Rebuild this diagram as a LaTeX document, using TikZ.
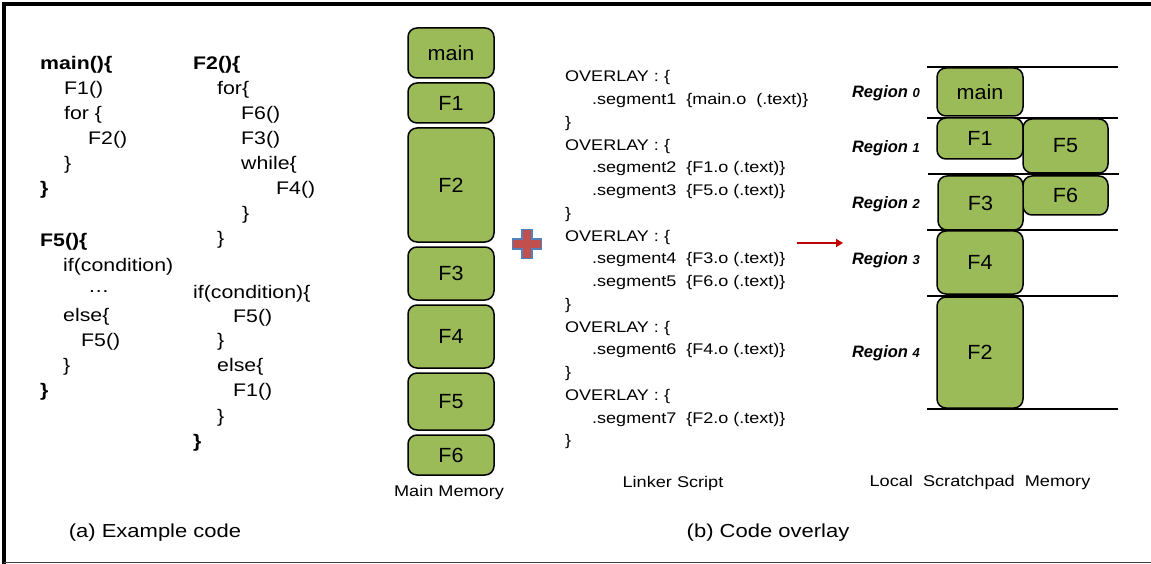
\documentclass[tikz,border=0pt]{standalone}
\usepackage{fontspec}
\setmainfont{Liberation Sans}[FakeStretch=1.17]
\newfontfamily\boxfont{Liberation Sans}[FakeStretch=1.05]
\newfontfamily\regfont{Liberation Sans}
\usetikzlibrary{arrows.meta}
\definecolor{boxgreen}{HTML}{9BBB59}
\definecolor{plusred}{HTML}{C0504D}
\definecolor{plusblue}{HTML}{4F81BD}
\definecolor{arrowred}{HTML}{C00000}
\tikzset{
  code/.style={anchor=west, inner sep=0pt, font=\fontsize{18.2}{20}\selectfont},
  codeb/.style={code, font=\fontsize{18.2}{20}\selectfont\bfseries},
  lnk/.style={anchor=west, inner sep=0pt, font=\fontsize{15.4}{17}\selectfont},
  mem/.style={draw=black, line width=1.5pt, fill=boxgreen, rounded corners=9pt},
  memlabel/.style={inner sep=0pt, font=\boxfont\fontsize{20.5}{23}\selectfont},
  caption/.style={inner sep=0pt, font=\fontsize{15.5}{17}\selectfont},
  bigcap/.style={inner sep=0pt, font=\fontsize{18.8}{21}\selectfont},
  region/.style={anchor=east, inner sep=0pt, font=\regfont\fontsize{16.5}{18}\selectfont\bfseries\itshape},
  sline/.style={line width=1.8pt},
}
\newcommand{\rdig}[1]{{\fontsize{13}{14}\selectfont #1}}
\begin{document}
\begin{tikzpicture}[x=1pt, y=-1pt]
\useasboundingbox (0,0) rectangle (1151,564);
% frame
\draw[line width=3.5pt] (4,564) -- (4,4) -- (1151,4);
\draw[line width=1pt, black!75] (4,562) -- (1151,562);

% ---------- (a) example code ----------
\node[codeb] (m0) at (40,65) {main()\{};
\node[code] (m1) at (64,90) {F1()};
\node[code] (m2) at (64,115) {for \{};
\node[code] (m3) at (88,140) {F2()};
\node[code] (m4) at (64,165) {\}};
\node[codeb] (m5) at (40,190) {\}};

\node[codeb] (f50) at (40,242) {F5()\{};
\node[code] (f51) at (63,267) {if(condition)};
\node[code] (f52) at (88,292) {\dots};
\node[code] (f53) at (63,317) {else\{};
\node[code] (f54) at (81,342) {F5()};
\node[code] (f55) at (63,367) {\}};
\node[codeb] (f56) at (40,392) {\}};

\node[codeb] (f20) at (193,65) {F2()\{};
\node[code] (f21) at (217,90) {for\{};
\node[code] (f22) at (241,115) {F6()};
\node[code] (f23) at (241,140) {F3()};
\node[code] (f24) at (241,165) {while\{};
\node[code] (f25) at (276,190) {F4()};
\node[code] (f26) at (242,215) {\}};
\node[code] (f27) at (217,240) {\}};
\node[code] (f28) at (193,294) {if(condition)\{};
\node[code] (f29) at (233,318) {F5()};
\node[code] (f210) at (217,342) {\}};
\node[code] (f211) at (217,367) {else\{};
\node[code] (f212) at (233,392) {F1()};
\node[code] (f213) at (217,418) {\}};
\node[codeb] (f214) at (193,443) {\}};

\node[bigcap] (capa) at (155,533) {(a) Example code};

% ---------- main memory ----------
\draw[mem] (408,28) rectangle (494,78);   \node[memlabel] (mmmain) at (451,53) {main};
\draw[mem] (408,83) rectangle (494,123);  \node[memlabel] (mmf1) at (451,103) {F1};
\draw[mem] (408,128) rectangle (494,242); \node[memlabel] (mmf2) at (451,185) {F2};
\draw[mem] (408,247) rectangle (494,300); \node[memlabel] (mmf3) at (451,273.5) {F3};
\draw[mem] (408,305) rectangle (494,368); \node[memlabel] (mmf4) at (451,336.5) {F4};
\draw[mem] (408,373) rectangle (494,430); \node[memlabel] (mmf5) at (451,401.5) {F5};
\draw[mem] (408,435) rectangle (494,475); \node[memlabel] (mmf6) at (451,455) {F6};
\node[caption] (mmcap) at (449,492) {Main Memory};

% plus sign
\draw[plusblue, fill=plusred, line width=1.8pt]
  (522,229.5) -- (532,229.5) -- (532,239) -- (541.5,239) -- (541.5,249) -- (532,249)
  -- (532,258.5) -- (522,258.5) -- (522,249) -- (512.5,249) -- (512.5,239) -- (522,239) -- cycle;

% ---------- linker script ----------
\node[lnk] (l1) at (565,78) {OVERLAY : \{};
\node[lnk] (l2) at (592,100.75) {.segment1\ \ \{main.o\ \ (.text)\}};
\node[lnk] (l3) at (565,123.5) {\}};
\node[lnk] (l4) at (565,146.25) {OVERLAY : \{};
\node[lnk] (l5) at (592,169) {.segment2\ \ \{F1.o (.text)\}};
\node[lnk] (l6) at (592,191.75) {.segment3\ \ \{F5.o (.text)\}};
\node[lnk] (l7) at (565,214.5) {\}};
\node[lnk] (l8) at (565,237.25) {OVERLAY : \{};
\node[lnk] (l9) at (592,260) {.segment4\ \ \{F3.o (.text)\}};
\node[lnk] (l10) at (592,282.75) {.segment5\ \ \{F6.o (.text)\}};
\node[lnk] (l11) at (565,305.5) {\}};
\node[lnk] (l12) at (565,328.25) {OVERLAY : \{};
\node[lnk] (l13) at (592,351) {.segment6\ \ \{F4.o (.text)\}};
\node[lnk] (l14) at (565,373.75) {\}};
\node[lnk] (l15) at (565,396.5) {OVERLAY : \{};
\node[lnk] (l16) at (592,419.25) {.segment7\ \ \{F2.o (.text)\}};
\node[lnk] (l17) at (565,442) {\}};
\node[caption] (lcap) at (673,483) {Linker Script};

% arrow
\coordinate (arrA) at (797,243);
\coordinate (arrB) at (843,243);
\draw[arrowred, line width=2.8pt, -{Triangle[length=7pt,width=8pt]}] (arrA) -- (arrB);

% ---------- scratchpad ----------
\draw[sline] (927,67) -- (1118,67);
\draw[sline] (927,118) -- (1118,118);
\draw[sline] (928,174) -- (1119,174);
\draw[sline] (927,230) -- (1118,230);
\draw[sline] (927,296) -- (1118,296);
\draw[sline] (927,409) -- (1118,409);

\draw[mem] (937,68) rectangle (1023,116);   \node[memlabel] (spmain) at (980,92) {main};
\draw[mem] (937,118) rectangle (1023,159);  \node[memlabel] (spf1) at (980,138.5) {F1};
\draw[mem] (1023,119) rectangle (1108,173); \node[memlabel] (spf5) at (1065.5,146) {F5};
\draw[mem] (1023,176) rectangle (1108,215); \node[memlabel] (spf6) at (1065.5,195.5) {F6};
\draw[mem] (938,176) rectangle (1023,230);  \node[memlabel] (spf3) at (980.5,203) {F3};
\draw[mem] (937,231) rectangle (1023,294);  \node[memlabel] (spf4) at (980,262.5) {F4};
\draw[mem] (937,297) rectangle (1023,408);  \node[memlabel] (spf2) at (980,352.5) {F2};

\node[region] (r0) at (920,93) {Region \rdig{0}};
\node[region] (r1) at (920,148) {Region \rdig{1}};
\node[region] (r2) at (920,204) {Region \rdig{2}};
\node[region] (r3) at (920,260) {Region \rdig{3}};
\node[region] (r4) at (920,353) {Region \rdig{4}};

\node[caption] (scap) at (980,482) {Local\ \ Scratchpad\ \ Memory};
\node[bigcap] (capb) at (768,533) {(b) Code overlay};
\end{tikzpicture}
\end{document}
